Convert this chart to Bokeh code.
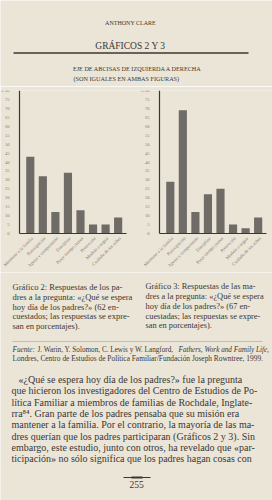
import math
from bokeh.plotting import figure
from bokeh.layouts import column
from bokeh.models import (Range1d, FixedTicker, LabelSet, ColumnDataSource,
                          LinearAxis)
from bokeh.core.properties import value
from bokeh.embed import file_html
from bokeh.resources import INLINE

# ---------------- data ----------------
categories = [
    "Mantener a la familia",
    "Participación",
    "Apoyo y comprensión",
    "Disciplina",
    "Pasar tiempo juntos",
    "Protección",
    "Modelo a seguir",
    "Cuidado de los niños",
]
fathers = [43, 32, 12, 34, 13, 5, 5, 9]   # Gráfico 2 (padres, %)
mothers = [29, 69, 12, 22, 25, 5, 3, 9]   # Gráfico 3 (madres, %)
y_ticks = list(range(0, 85, 5))
y_tick_overrides = {80: "% 80"}

caption_left = [
    "Gráfico 2: Respuestas de los pa-",
    "dres a la pregunta: «¿Qué se espera",
    "hoy día de los padres?» (62 en-",
    "cuestados; las respuestas se expre-",
    "san en porcentajes).",
]
caption_right = [
    "Gráfico 3: Respuestas de las ma-",
    "dres a la pregunta: «¿Qué se espera",
    "hoy día de los padres?» (67 en-",
    "cuestadas; las respuestas se expre-",
    "san en porcentajes).",
]
body = [
    "«¿Qué se espera hoy día de los padres?» fue la pregunta",
    "que hicieron los investigadores del Centro de Estudios de Po-",
    "lítica Familiar a miembros de familias de Rochdale, Inglate-",
    "rra⁸⁴. Gran parte de los padres pensaba que su misión era",
    "mantener a la familia. Por el contrario, la mayoría de las ma-",
    "dres querían que los padres participaran (Gráficos 2 y 3). Sin",
    "embargo, este estudio, junto con otros, ha revelado que «par-",
    "ticipación» no sólo significa que los padres hagan cosas con",
]

# ---------------- style ----------------
BG = "#ebe5d7"
INK = "#3a3733"
SOFT = "#857f78"
BAR = "#6f6b67"
SERIF = "Liberation Serif"

# layout of the two small charts on one shared category scale
X_START, X_STOP = -1.374, 20.299
AXIS_AT = 0.14          # value axis crossing of each chart
CHART_END = 8.67        # end of each chart's baseline
OFFSET = 11.155         # shift of the second chart along the scale


def blank(width, height):
    p = figure(width=width, height=height, x_range=Range1d(0, width),
               y_range=Range1d(height, 0), output_backend="svg",
               toolbar_location=None, x_axis_location=None,
               y_axis_location=None, min_border=0)
    p.grid.visible = False
    p.outline_line_color = None
    p.background_fill_color = BG
    p.border_fill_color = BG
    return p


def txt(p, x, y, s, size, color=INK, align="left", style="normal"):
    p.text(x=[x], y=[y], text=[s], text_font=value(SERIF),
           text_font_size=size, text_color=color, text_align=align,
           text_baseline="middle", text_font_style=style)


# ---------------- header ----------------
head = blank(272, 86)
txt(head, 130, 22, "ANTHONY CLARE", "6px", align="center")
txt(head, 130, 45, "GRÁFICOS 2 Y 3", "9.5px", align="center")
head.segment(x0=[13], y0=[52.5], x1=[248], y1=[52.5], line_color=INK,
             line_width=1.3)
txt(head, 137, 68, "EJE DE ABCISAS DE IZQUIERDA A DERECHA", "6.2px",
    align="center")
txt(head, 126, 78, "(SON IGUALES EN AMBAS FIGURAS)", "6.2px",
    align="center")

# ---------------- charts (one canvas, two charts) ----------------
charts = figure(width=272, height=186, x_range=Range1d(X_START, X_STOP),
                y_range=Range1d(-21.8, 80), output_backend="svg",
                toolbar_location=None, x_axis_location=None,
                y_axis_location=None, min_border_left=0,
                min_border_right=0, min_border_top=4, min_border_bottom=0)
charts.grid.visible = False
charts.outline_line_color = None
charts.background_fill_color = BG
charts.border_fill_color = BG

label_x, label_name = [], []
for shift, vals in ((0, fathers), (OFFSET, mothers)):
    xs = [i + 1 + shift for i in range(len(categories))]
    label_x += xs
    label_name += categories
    charts.vbar(x=xs, top=vals, width=0.65, fill_color=BAR, line_color=None)
    xax = LinearAxis(fixed_location=0,
                     bounds=(AXIS_AT + shift, CHART_END + shift),
                     ticker=FixedTicker(ticks=[]), axis_line_color=INK,
                     axis_line_width=1.2, major_tick_line_color=None,
                     minor_tick_line_color=None,
                     major_label_text_color=None)
    charts.add_layout(xax, "below")
    yax = LinearAxis(fixed_location=AXIS_AT + shift, bounds=(0, 80),
                     ticker=FixedTicker(ticks=y_ticks),
                     major_label_overrides=y_tick_overrides,
                     major_label_standoff=4, major_tick_line_color=None,
                     minor_tick_line_color=None, axis_line_color=INK,
                     axis_line_width=1.2, major_label_text_font=SERIF,
                     major_label_text_font_size="4.6px",
                     major_label_text_color=SOFT)
    charts.add_layout(yax, "left")

label_src = ColumnDataSource(dict(x=label_x, zero=[0] * len(label_x),
                                  name=label_name))
charts.add_layout(LabelSet(x="x", y="zero", text="name", source=label_src,
                           angle=math.pi / 4, text_align="right",
                           text_baseline="middle", x_offset=2, y_offset=-4,
                           text_font=SERIF, text_font_size="4.6px",
                           text_color=SOFT, level="underlay"))

# ---------------- footer ----------------
foot = blank(272, 228)
cap_y = [14, 24, 34, 43.5, 53]
for yy, s in zip(cap_y, caption_left):
    txt(foot, 12, yy, s, "8.5px")
for yy, s in zip(cap_y, caption_right):
    txt(foot, 145, yy, s, "8.4px")

foot.segment(x0=[12], y0=[69], x1=[262], y1=[69], line_color="#b9b2a6",
             line_width=0.8)
txt(foot, 12, 77, "Fuente:", "7.2px", style="italic")
txt(foot, 37, 77, "J. Warin, Y. Solomon, C. Lewis y W. Langford,", "7.2px")
txt(foot, 178, 77, "Fathers, Work and Family Life,", "7.2px",
    style="italic")
txt(foot, 12, 86, "Londres, Centro de Estudios de Política Familiar/"
    "Fundación Joseph Rowntree, 1999.", "7.4px")

body_y = [107, 118.3, 129.6, 140.9, 152.2, 163.5, 174.8, 186.1]
for i, (yy, s) in enumerate(zip(body_y, body)):
    txt(foot, 18 if i == 0 else 11, yy, s, "10px")

foot.segment(x0=[123], y0=[205], x1=[150], y1=[205], line_color=INK,
             line_width=1.0)
foot.segment(x0=[131], y0=[205], x1=[142], y1=[205], line_color=INK,
             line_width=2.0)
txt(foot, 136, 212, "255", "9.5px", align="center")

layout = column(head, charts, foot, spacing=0)

open("out.html", "w").write(file_html(layout, INLINE))
